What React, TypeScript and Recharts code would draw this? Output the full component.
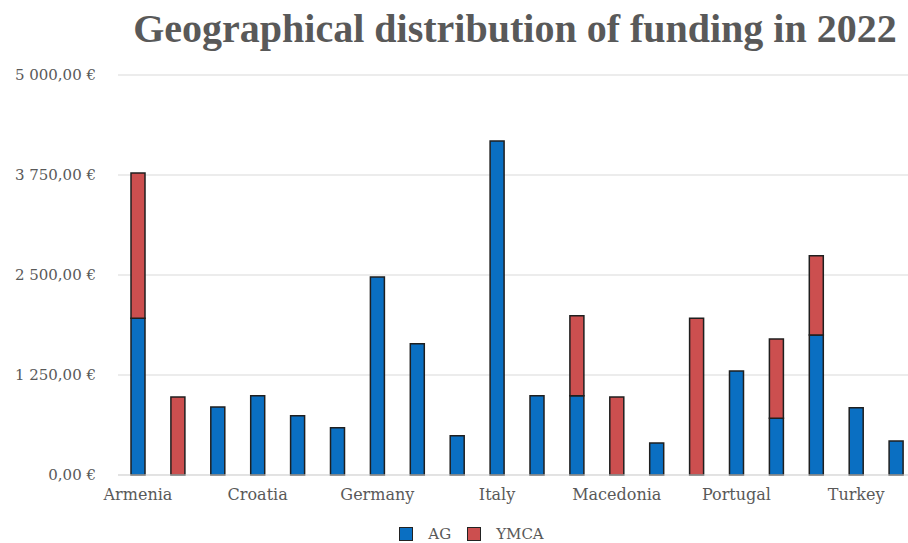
import { BarChart, Bar, XAxis, YAxis, CartesianGrid, Legend } from "recharts";

const countries = [
  "Armenia", "Austria", "Belgium", "Croatia", "Czech Republic", "France", "Germany",
  "Greece", "Hungary", "Italy", "Latvia", "Lithuania", "Macedonia", "Moldova",
  "Poland", "Portugal", "Romania", "Spain", "Turkey", "Ukraine",
];
const ag = [1960, 0, 850, 990, 740, 590, 2475, 1640, 490, 4175, 990, 990, 0, 400, 0, 1300, 710, 1750, 840, 425];
const ymca = [1815, 975, 0, 0, 0, 0, 0, 0, 0, 0, 0, 1000, 975, 0, 1960, 0, 990, 990, 0, 0];
const yTicks = [0, 1250, 2500, 3750, 5000];

const data = countries.map((name, i) => ({ name, AG: ag[i], YMCA: ymca[i] }));

const BLUE = "#0a6fc2";
const RED = "#cc4f4f";
const GRAY = "#595959";

const euro = (v: number) => {
  const [int, dec] = v.toFixed(2).split(".");
  return int.replace(/\B(?=(\d{3})+(?!\d))/g, " ") + "," + dec + " €";
};

const LegendBox = () => (
  <div style={{ height: 30, boxSizing: "border-box", paddingTop: 12, paddingLeft: 27, display: "flex", justifyContent: "center", alignItems: "center", fontFamily: "DejaVu Serif", fontSize: 15, color: GRAY }}>
    {[["AG", BLUE], ["YMCA", RED]].map(([label, c], i) => (
      <span key={label} style={{ display: "flex", alignItems: "center", marginLeft: i ? 16 : 0 }}>
        <span style={{ width: 12, height: 12, background: c, border: "1px solid #222", marginRight: 15 }} />
        {label}
      </span>
    ))}
  </div>
);

export default function App() {
  return (
    <div style={{ position: "absolute", left: 0, top: 0, width: 908, height: 543, overflow: "hidden", background: "#fff" }}>
      <div style={{ position: "absolute", left: 0, top: 9, width: 1030, textAlign: "center", fontFamily: "Liberation Serif", fontWeight: "bold", fontSize: 40, lineHeight: "40px", color: GRAY }}>
        Geographical distribution of funding in 2022
      </div>
      <BarChart width={920} height={543} data={data} margin={{ top: 75, right: 4, bottom: 0, left: 0 }} barSize={14}>
        <CartesianGrid vertical={false} stroke="#d9d9d9" />
        <XAxis
          dataKey="name"
          interval={2}
          height={38}
          tickLine={false}
          axisLine={{ stroke: "#d9d9d9" }}
          tickSize={0}
          tickMargin={14}
          tick={{ fill: GRAY, fontSize: 16, fontFamily: "DejaVu Serif" }}
        />
        <YAxis
          width={118}
          domain={[0, 5000]}
          ticks={yTicks}
          tickFormatter={euro}
          axisLine={false}
          tickLine={false}
          tickSize={0}
          tickMargin={22}
          tick={{ fill: GRAY, fontSize: 15, fontFamily: "DejaVu Serif" }}
        />
        <Legend verticalAlign="bottom" content={<LegendBox />} />
        <Bar dataKey="AG" stackId="a" fill={BLUE} stroke="#1f1f1f" strokeWidth={1.5} isAnimationActive={false} />
        <Bar dataKey="YMCA" stackId="a" fill={RED} stroke="#1f1f1f" strokeWidth={1.5} isAnimationActive={false} />
      </BarChart>
    </div>
  );
}
